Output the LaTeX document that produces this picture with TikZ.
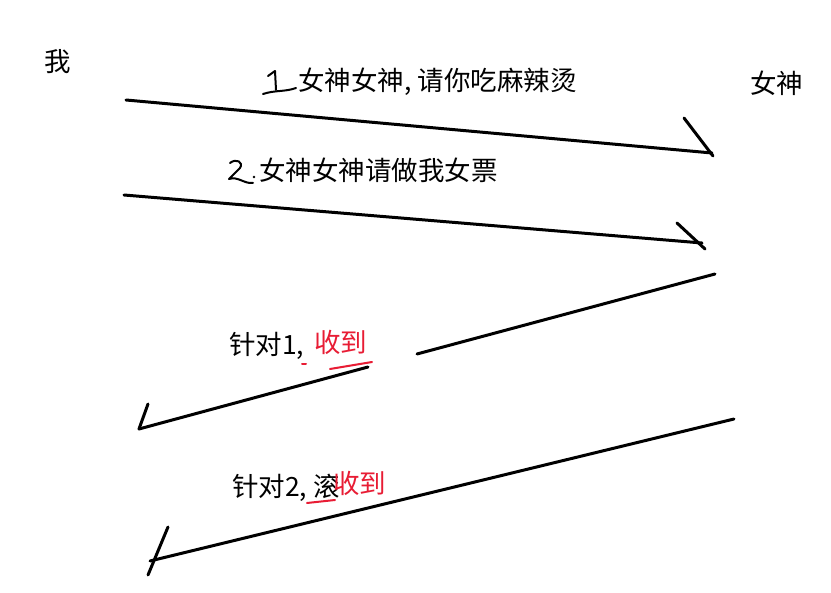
\documentclass[tikz,border=0pt]{standalone}
\usepackage{fontspec}
\setmainfont{Noto Sans CJK SC}
\definecolor{inkred}{RGB}{232,28,52}
\begin{document}
\begin{tikzpicture}[x=1pt,y=-1pt,
  pen/.style={line width=3pt,line cap=round,line join=round},
  thin pen/.style={line width=2pt,line cap=round,line join=round},
  redpen/.style={line width=2pt,line cap=round,draw=inkred},
  lbl/.style={inner sep=0pt,anchor=west,font=\fontsize{26.5}{30}\selectfont},
  redlbl/.style={lbl,text=inkred}]
\useasboundingbox[fill=white] (0,0) rectangle (831,593);
% actors
\node[lbl] (me) at (44,62) {我};
\node[lbl] (she) at (750,83) {女神};
% message 1
\node[lbl] (m1) at (298,82) {女神女神, 请你吃麻辣烫};
\draw[thin pen] (268,76) -- (275,71) -- (276,90);
\draw[thin pen] (263,94) .. controls (275,90) and (285,92) .. (296,88);
\coordinate (a1s) at (126,100);
\coordinate (a1e) at (712,153);
\coordinate (a1h) at (684,118);
\draw[pen] (a1s) -- (a1e);
\draw[pen] (a1h) -- (713,156);
% message 2
\node[lbl] (m2) at (259,170) {女神女神请做我女票};
\draw[thin pen] (230,163) .. controls (236,158) and (244,162) .. (240,168) -- (229,179) .. controls (238,176) and (244,184) .. (253,183);
\fill (254,177) circle (1.3pt);
\coordinate (a2s) at (124,195);
\coordinate (a2e) at (702,243);
\coordinate (a2h) at (677,223);
\draw[pen] (a2s) -- (a2e);
\draw[pen] (a2h) -- (705,249);
% reply 1
\node[lbl] (r1) at (229,346) {针对1,};
\node[redlbl] (r1b) at (314,342) {收到};
\draw[redpen] (302,364) -- (306,364);
\coordinate (a3s) at (715,274);
\coordinate (a3g) at (417,354);
\coordinate (a3r) at (368,367);
\coordinate (a3e) at (139,429);
\coordinate (a3h) at (148,404);
\draw[pen] (a3s) -- (a3g);
\draw[pen] (a3r) -- (a3e);
\draw[pen] (a3h) -- (a3e);
\draw[redpen] (330,369) -- (372,362);
% reply 2
\node[lbl] (r2) at (232,488) {针对2, 滚};
\node[redlbl] (r2b) at (333,483) {收到};
\draw[redpen] (307,503) -- (335,500);
\coordinate (a4s) at (734,419);
\coordinate (a4e) at (150,561);
\coordinate (a4h) at (168,527);
\draw[pen] (a4s) -- (a4e);
\draw[pen] (a4h) -- (148,575);
\end{tikzpicture}
\end{document}
